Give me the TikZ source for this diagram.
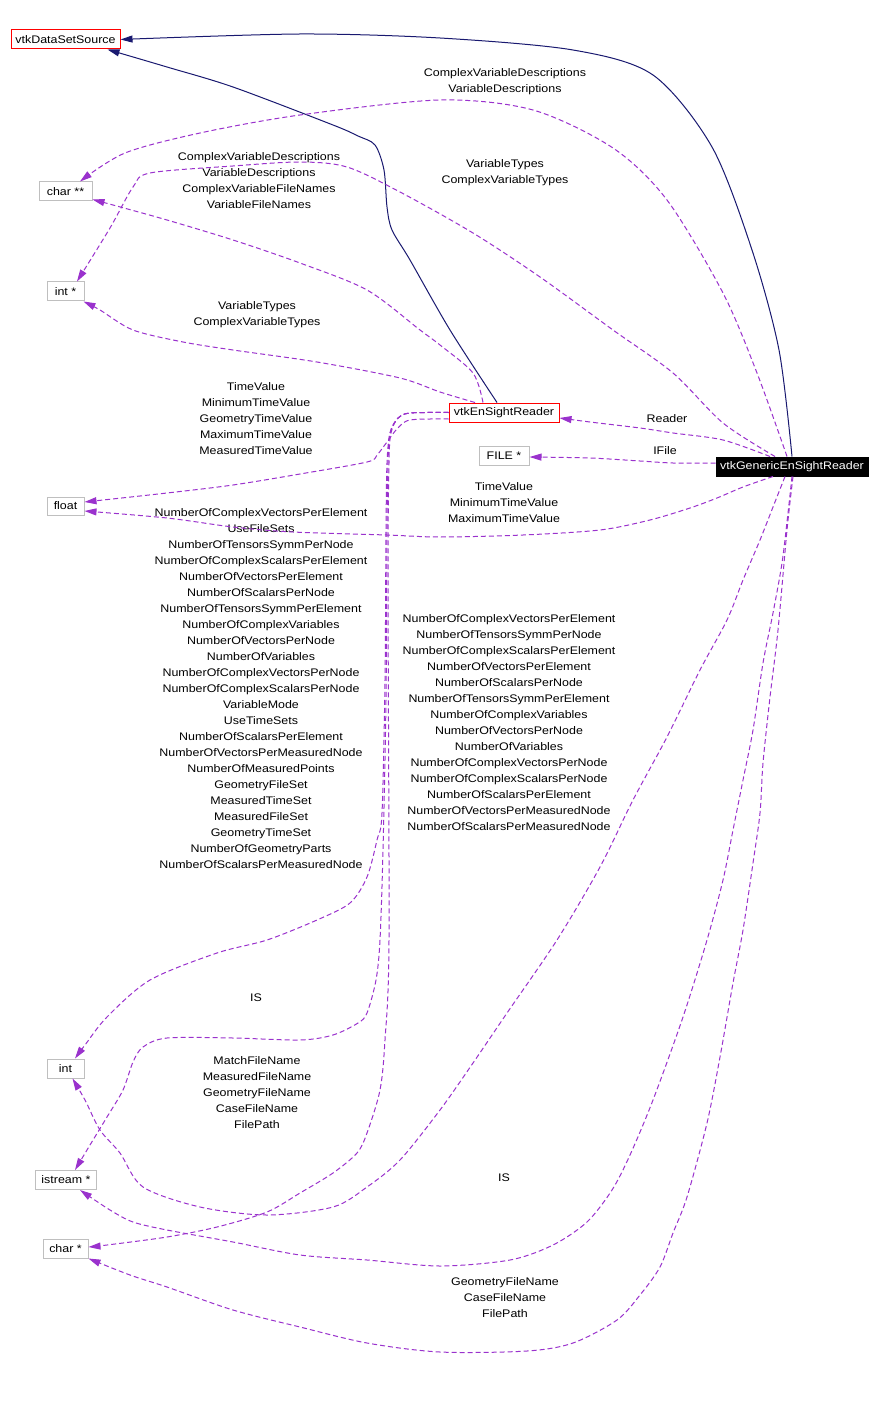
\documentclass[tikz,border=0pt]{standalone}
\usepackage{fontspec}
\newfontfamily\lbl{Liberation Sans}[FakeStretch=1.13]
\usetikzlibrary{arrows.meta}
\definecolor{navyc}{HTML}{191970}
\definecolor{purp}{HTML}{9A32CD}
\definecolor{boxgray}{HTML}{BFBFBF}
\tikzset{
  txt/.style={font=\lbl\fontsize{11pt}{16pt}\selectfont},
  cls/.style={txt, draw=red, line width=1pt, rectangle, inner sep=0pt, minimum height=19pt},
  typ/.style={txt, draw=boxgray, line width=1pt, rectangle, inner sep=0pt, minimum height=19pt},
  inh/.style={draw=navyc, line width=1pt, -{Triangle[length=12pt,width=7pt]}},
  usage/.style={draw=purp, line width=1pt, dash pattern=on 5pt off 3pt, -{Triangle[length=12pt,width=7pt]}},
  lab/.style={txt, align=center, inner sep=0pt},
}
\begin{document}
\begin{tikzpicture}[x=1pt,y=-1pt]
\fill[white] (0,0) rectangle (882,1404);
\useasboundingbox (0,0) rectangle (882,1404);

% nodes
\node[cls, minimum width=109pt] (dss) at (65.5,39.5) {vtkDataSetSource};
\node[typ, minimum width=53pt] (cs2) at (65.5,191.5) {char **};
\node[typ, minimum width=37pt] (ip) at (65.5,291.5) {int *};
\node[cls, minimum width=110pt] (esr) at (504,412.5) {vtkEnSightReader};
\node[typ, minimum width=50pt] (fp) at (504,455.5) {FILE *};
\node[txt, draw=black, fill=black, text=white, line width=1pt, inner sep=0pt, minimum width=152pt, minimum height=19pt] (ges) at (792,466.5) {vtkGenericEnSightReader};
\node[typ, minimum width=37pt, minimum height=18pt] (fl) at (65.5,506) {float};
\node[typ, minimum width=37pt] (in) at (65.5,1068.5) {int};
\node[typ, minimum width=61pt] (is) at (66,1180) {istream *};
\node[typ, minimum width=45pt] (cp) at (65.5,1248.5) {char *};

% labels
\node[lab] (l1) at (505,82) {ComplexVariableDescriptions\\VariableDescriptions};
\node[lab] (l2) at (505,173) {VariableTypes\\ComplexVariableTypes};
\node[lab] (l3) at (259,181) {ComplexVariableDescriptions\\VariableDescriptions\\ComplexVariableFileNames\\VariableFileNames};
\node[lab] (l4) at (257,315) {VariableTypes\\ComplexVariableTypes};
\node[lab] (l5) at (256,419) {TimeValue\\MinimumTimeValue\\GeometryTimeValue\\MaximumTimeValue\\MeasuredTimeValue};
\node[lab] (l6) at (667,419) {Reader};
\node[lab] (l7) at (665,451) {IFile};
\node[lab] (l8) at (504,503) {TimeValue\\MinimumTimeValue\\MaximumTimeValue};
\node[lab] (l9) at (261,689) {NumberOfComplexVectorsPerElement\\UseFileSets\\NumberOfTensorsSymmPerNode\\NumberOfComplexScalarsPerElement\\NumberOfVectorsPerElement\\NumberOfScalarsPerNode\\NumberOfTensorsSymmPerElement\\NumberOfComplexVariables\\NumberOfVectorsPerNode\\NumberOfVariables\\NumberOfComplexVectorsPerNode\\NumberOfComplexScalarsPerNode\\VariableMode\\UseTimeSets\\NumberOfScalarsPerElement\\NumberOfVectorsPerMeasuredNode\\NumberOfMeasuredPoints\\GeometryFileSet\\MeasuredTimeSet\\MeasuredFileSet\\GeometryTimeSet\\NumberOfGeometryParts\\NumberOfScalarsPerMeasuredNode};
\node[lab] (l10) at (509,723) {NumberOfComplexVectorsPerElement\\NumberOfTensorsSymmPerNode\\NumberOfComplexScalarsPerElement\\NumberOfVectorsPerElement\\NumberOfScalarsPerNode\\NumberOfTensorsSymmPerElement\\NumberOfComplexVariables\\NumberOfVectorsPerNode\\NumberOfVariables\\NumberOfComplexVectorsPerNode\\NumberOfComplexScalarsPerNode\\NumberOfScalarsPerElement\\NumberOfVectorsPerMeasuredNode\\NumberOfScalarsPerMeasuredNode};
\node[lab] (l11) at (256,998) {IS};
\node[lab] (l12) at (257,1093) {MatchFileName\\MeasuredFileName\\GeometryFileName\\CaseFileName\\FilePath};
\node[lab] (l13) at (504,1178) {IS};
\node[lab] (l14) at (505,1298) {GeometryFileName\\CaseFileName\\FilePath};

% inheritance
\draw[inh] plot[smooth] coordinates {(ges.north) (779,350) (752,250) (712,147) (653,75) (573,50) (440,38) (300,34) (dss.east)};
\draw[inh] plot[smooth] coordinates {([xshift=-7pt]esr.north) (450,330) (410,260) (392,230) (387,207) (384,170) (375,145) (358,136) (333,125) (233,87) (167,67) ([xshift=-13pt]dss.south east)};

% usage from vtkGenericEnSightReader
\draw[usage] plot[smooth] coordinates {([xshift=-5pt]ges.north) (757,373) (723,293) (667,200) (613,148) (533,110) (440,100) (300,115) (200,133) (125,153) ([xshift=14.5pt]cs2.north)};
\draw[usage] plot[smooth] coordinates {([xshift=-17pt]ges.north) (723,423) (673,373) (613,330) (540,277) (473,233) (400,192) (347,167) (300,162) (233,166) (150,173) (133,187) (110,228) ([xshift=11.5pt]ip.north)};
\draw[usage] plot[smooth] coordinates {([xshift=-22pt]ges.north) (723,440) (673,433) (640,428) (590,422) ([yshift=-5.5pt]esr.east)};
\draw[usage] plot[smooth] coordinates {([yshift=3.5pt]ges.west) (673,463) (640,461) (590,458) ([yshift=-1.5pt]fp.east)};
\draw[usage] plot[smooth] coordinates {([xshift=-19pt]ges.south) (743,487) (717,498) (690,508) (650,520) (600,530) (523,535) (440,537) (387,535) (293,532) (233,527) (167,518) ([yshift=-5pt]fl.east)};
\draw[usage] plot[smooth] coordinates {([xshift=-7pt]ges.south) (773,507) (760,540) (743,580) (727,620) (700,670) (667,737) (633,800) (600,867) (557,940) (507,1013) (473,1063) (440,1110) (400,1160) (367,1187) (333,1207) (267,1215) (200,1207) (143,1187) (120,1153) (100,1130) (85,1100) ([xshift=7pt]in.south)};
\draw[usage] plot[smooth] coordinates {(ges.south) (788,513) (782,563) (773,613) (763,663) (753,730) (743,780) (733,830) (723,880) (707,940) (683,1017) (653,1100) (630,1155) (612,1190) (587,1222) (553,1245) (510,1260) (440,1266) (367,1260) (300,1255) (233,1242) (167,1230) (133,1222) (110,1210) ([xshift=14pt]is.south)};
\draw[usage] plot[smooth] coordinates {([xshift=1pt]ges.south) (787,530) (778,630) (770,697) (763,763) (760,813) (753,863) (743,930) (733,983) (720,1057) (707,1123) (687,1197) (673,1233) (660,1267) (640,1295) (617,1320) (573,1343) (527,1351) (440,1352) (367,1343) (300,1327) (233,1310) (167,1287) (130,1275) (cp.south east)};

% usage from vtkEnSightReader
\draw[usage] plot[smooth] coordinates {([xshift=-21pt]esr.north) (473,373) (440,345) (420,330) (367,290) (300,263) (233,240) (167,220) (113,205) ([yshift=2pt]cs2.south east)};
\draw[usage] plot[smooth] coordinates {([xshift=-29pt]esr.north) (440,392) (400,378) (317,362) (233,350) (183,342) (133,330) (100,310) ([xshift=-1pt]ip.south east)};
\draw[usage] plot[smooth] coordinates {([yshift=-6.5pt]esr.west) (410,420) (397,429) (387,442) (377,455) (367,462) (300,474) (233,485) (167,493) ([yshift=4pt]fl.east)};
\draw[usage] plot[smooth] coordinates {(esr.west) (410,413) (398,418) (390,433) (387,463) (386,530) (385,680) (382,813) (377,840) (367,877) (350,903) (317,920) (267,940) (217,953) (150,980) (107,1017) (85,1045) ([xshift=9.5pt]in.north)};
\draw[usage] plot[smooth] coordinates {(esr.west) (410,413) (398,418) (390,433) (388,463) (387,530) (386,700) (383,850) (380,940) (376,980) (367,1013) (358,1023) (333,1035) (300,1040) (233,1038) (167,1038) (143,1047) (133,1062) (123,1090) (107,1117) (90,1145) ([xshift=9pt]is.north)};
\draw[usage] plot[smooth] coordinates {(esr.west) (410,413) (398,418) (391,433) (389,463) (388,580) (389,940) (385,1040) (380,1090) (367,1133) (357,1153) (333,1173) (300,1193) (267,1212) (217,1227) (167,1237) (107,1245) ([yshift=1.5pt]cp.east)};
\end{tikzpicture}
\end{document}
